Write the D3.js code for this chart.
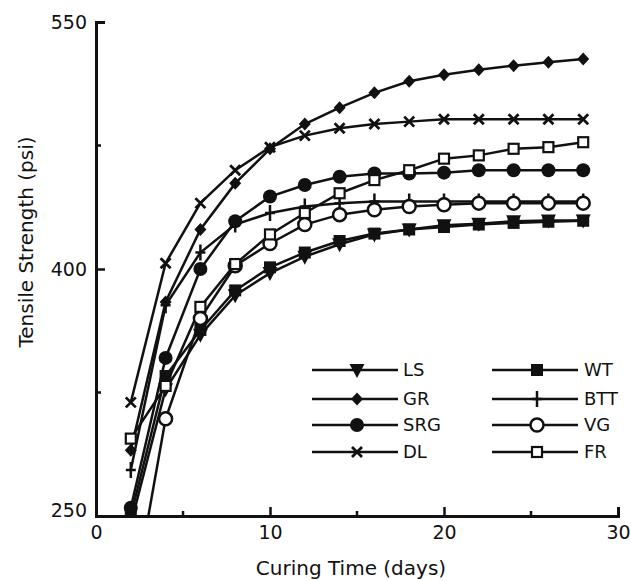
<!DOCTYPE html>
<html>
<head>
<meta charset="utf-8">
<script src="https://cdn.jsdelivr.net/npm/d3@7"></script>
<style>
  body { margin: 0; background: #fff; }
  text { font-family: "DejaVu Sans", sans-serif; fill: #111; }
</style>
</head>
<body>
<div id="chart"></div>
<script>
// curing time (days) and tensile strength (psi) per mix
const days = [2, 4, 6, 8, 10, 12, 14, 16, 18, 20, 22, 24, 26, 28];
const LS  = [245, 327, 360, 384, 397.5, 407.5, 415, 421, 424, 426.5, 427.5, 429, 429.5, 429.5];
const GR  = [290, 380, 424, 452, 473, 488, 498, 507, 514, 518, 521, 523.5, 525.5, 527.5];
const SRG = [255, 346, 400, 429, 444, 451, 456, 458, 458, 458.5, 460, 460, 460, 460];
const DL  = [319, 403.5, 440, 460, 474, 481, 485.5, 488, 489.5, 491, 491, 491, 491, 491];
const WT  = [250, 335, 363, 387, 401, 410, 417, 421.5, 424, 425.5, 427, 428, 428.7, 429.3];
const BTT = [278, 378, 410, 427, 434, 438, 440, 441, 441, 441, 441, 441, 441, 441];
const VG  = [190, 309, 370, 402, 415.5, 427, 433, 436, 438, 439, 440, 440, 440, 440];
const FR  = [297, 329, 377, 403, 421, 434, 446, 454, 460, 467, 469, 473, 474, 477];

const xTicks = [0, 10, 20, 30];
const xMinor = [5, 15, 25];
const yTicks = [250, 400, 550];
const yMinor = [325, 475];

const series = [
  {name: 'LS', values: LS, symbol: 'triDown'},
  {name: 'GR', values: GR, symbol: 'diamond'},
  {name: 'SRG', values: SRG, symbol: 'circle'},
  {name: 'DL', values: DL, symbol: 'times'},
  {name: 'WT', values: WT, symbol: 'square'},
  {name: 'BTT', values: BTT, symbol: 'plus'},
  {name: 'VG', values: VG, symbol: 'openCircle'},
  {name: 'FR', values: FR, symbol: 'openSquare'}
];

const W = 631, H = 581;
const margin = {top: 22, right: 13, bottom: 65, left: 96};
const width = W - margin.left - margin.right;
const height = H - margin.top - margin.bottom;
const fontFamily = '"DejaVu Sans", sans-serif';

const svg = d3.select('#chart').append('svg')
  .attr('width', W)
  .attr('height', H);

const g = svg.append('g')
  .attr('transform', `translate(${margin.left},${margin.top})`);

const x = d3.scaleLinear().domain([0, 30]).range([0, width]);
const y = d3.scaleLinear().domain([250, 550]).range([height, 0]);

// clip anything under 250 psi
g.append('defs').append('clipPath')
  .attr('id', 'plot-clip')
  .append('rect')
  .attr('x', -5)
  .attr('y', -15)
  .attr('width', width + 20)
  .attr('height', height + 15);

// marker drawing
function drawMarker(sel, type) {
  if (type === 'circle') {
    sel.append('circle').attr('r', 7).attr('fill', '#111');
  } else if (type === 'openCircle') {
    sel.append('circle').attr('r', 6.5).attr('fill', '#fff')
      .attr('stroke', '#111').attr('stroke-width', 2.5);
  } else if (type === 'square') {
    sel.append('rect').attr('x', -6).attr('y', -6).attr('width', 12).attr('height', 12)
      .attr('fill', '#111');
  } else if (type === 'openSquare') {
    sel.append('rect').attr('x', -5).attr('y', -5).attr('width', 10).attr('height', 10)
      .attr('fill', '#fff').attr('stroke', '#111').attr('stroke-width', 2.2);
  } else if (type === 'diamond') {
    sel.append('path').attr('d', 'M0,-6.5L6,0L0,6.5L-6,0Z').attr('fill', '#111');
  } else if (type === 'triDown') {
    sel.append('path').attr('d', 'M-7.5,-6L7.5,-6L0,8Z').attr('fill', '#111');
  } else if (type === 'times') {
    sel.append('path').attr('d', 'M-5,-5L5,5M5,-5L-5,5')
      .attr('stroke', '#111').attr('stroke-width', 2.8).attr('fill', 'none');
  } else if (type === 'plus') {
    sel.append('path').attr('d', 'M0,-8L0,8M-5,0L5,0')
      .attr('stroke', '#111').attr('stroke-width', 2.5).attr('fill', 'none');
  }
}

const line = d3.line()
  .x((d, i) => x(days[i]))
  .y(d => y(d));

const plot = g.append('g').attr('clip-path', 'url(#plot-clip)');

series.forEach(s => {
  plot.append('path')
    .attr('d', line(s.values))
    .attr('fill', 'none')
    .attr('stroke', '#111')
    .attr('stroke-width', 2.5);
});

series.forEach(s => {
  plot.selectAll(null)
    .data(s.values)
    .join('g')
    .attr('transform', (d, i) => `translate(${x(days[i])},${y(d)})`)
    .each(function () { drawMarker(d3.select(this), s.symbol); });
});

// axes, ticks pointing inward
const xAxisG = g.append('g')
  .attr('transform', `translate(0,${height})`)
  .call(d3.axisBottom(x).tickValues(xTicks).tickSize(-9).tickPadding(8).tickFormat(d3.format('d')));
xAxisG.selectAll('line').attr('stroke', '#111').attr('stroke-width', 2.5);
xAxisG.select('.domain').attr('stroke', '#111').attr('stroke-width', 3);
xAxisG.selectAll('text').attr('font-size', 19).attr('dy', '0.8em')
  .style('font-family', fontFamily).attr('fill', '#111');
xAxisG.selectAll('.minor').data(xMinor).join('line')
  .attr('class', 'minor')
  .attr('x1', d => x(d)).attr('x2', d => x(d))
  .attr('y1', 0).attr('y2', -5)
  .attr('stroke', '#111').attr('stroke-width', 2.5);

const yAxisG = g.append('g')
  .call(d3.axisLeft(y).tickValues(yTicks).tickSize(-9).tickPadding(9).tickFormat(d3.format('d')));
yAxisG.selectAll('line').attr('stroke', '#111').attr('stroke-width', 2.5);
yAxisG.select('.domain').attr('stroke', '#111').attr('stroke-width', 3);
yAxisG.selectAll('text').attr('font-size', 19)
  .style('font-family', fontFamily).attr('fill', '#111')
  .attr('dy', d => d === 250 ? '0.05em' : '0.36em');
yAxisG.selectAll('.minor').data(yMinor).join('line')
  .attr('class', 'minor')
  .attr('x1', 0).attr('x2', 5)
  .attr('y1', d => y(d)).attr('y2', d => y(d))
  .attr('stroke', '#111').attr('stroke-width', 2.5);

// axis titles
svg.append('text')
  .attr('x', 351)
  .attr('y', 575)
  .attr('text-anchor', 'middle')
  .attr('font-size', 20)
  .text('Curing Time (days)');

svg.append('text')
  .attr('transform', `translate(33,242) rotate(-90)`)
  .attr('text-anchor', 'middle')
  .attr('font-size', 20)
  .text('Tensile Strength (psi)');

// legend, two columns of four
const legend = svg.append('g');
const legendCols = [{x0: 312, x1: 398, mx: 357, tx: 403}, {x0: 492, x1: 578, mx: 537, tx: 584}];
const legendRows = [370, 399, 425, 452];

series.forEach((s, i) => {
  const col = legendCols[Math.floor(i / 4)];
  const ly = legendRows[i % 4];
  const item = legend.append('g');
  item.append('line')
    .attr('x1', col.x0).attr('x2', col.x1)
    .attr('y1', ly).attr('y2', ly)
    .attr('stroke', '#111').attr('stroke-width', 2.5);
  const m = item.append('g').attr('transform', `translate(${col.mx},${ly})`);
  drawMarker(m, s.symbol);
  item.append('text')
    .attr('x', col.tx)
    .attr('y', ly)
    .attr('dy', '0.36em')
    .attr('font-size', 18)
    .text(s.name);
});
</script>
</body>
</html>
